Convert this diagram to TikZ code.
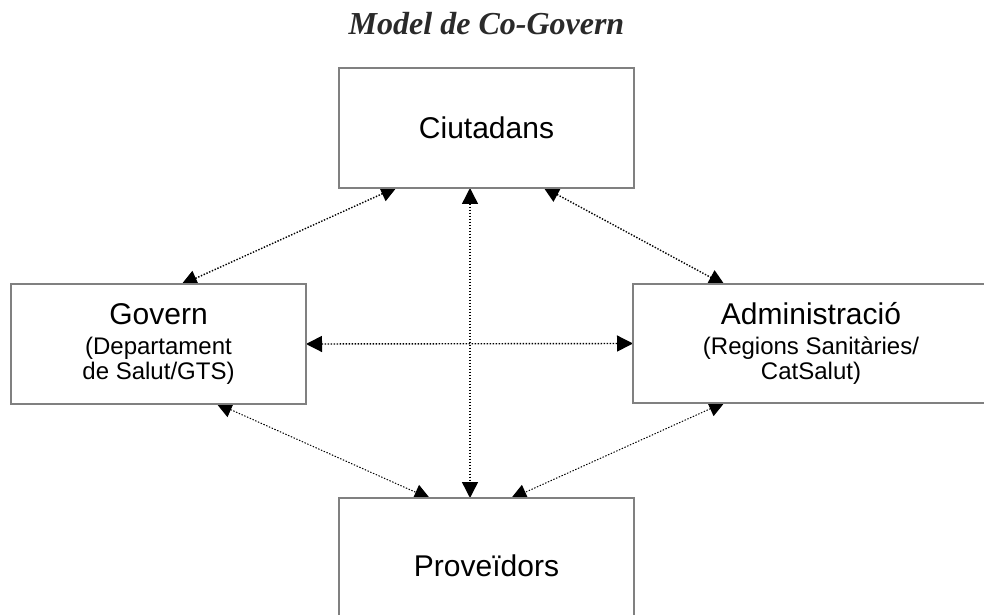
\documentclass[tikz,border=0pt]{standalone}
\usepackage{fontspec}
\setmainfont{Liberation Sans}
\newfontfamily\titlefont{Liberation Serif}
\usetikzlibrary{positioning,arrows.meta,backgrounds}

\definecolor{boxgray}{HTML}{808080}
\definecolor{titlegray}{HTML}{2A2A2A}
\newcommand{\subtxt}{\fontsize{24}{25}\selectfont}

\begin{document}
\begin{tikzpicture}[node distance={96pt}, thick, auto=center,
    main/.style = {draw=boxgray, line width=2pt, fill=white, minimum width=295pt,
        minimum height=120pt, inner sep=0pt, outer sep=0pt, align=center,
        font=\subtxt},
    link/.style = {{Triangle[length=16pt,width=16pt]}-{Triangle[length=16pt,width=16pt]},
        line width=1.4pt, dash pattern=on 1.4pt off 1.6pt, black, shorten <=-2pt, shorten >=-2pt}]
    \useasboundingbox (0pt,0pt) rectangle (984pt,614pt);
    \clip (0pt,0pt) rectangle (984pt,614pt);
    \node[main, font=\fontsize{30}{30}\selectfont] (ciut) at (486.5pt,486pt) {Ciutadans};
    \node[inner sep=0pt, text=titlegray, font=\titlefont\bfseries\itshape\fontsize{32}{32}\selectfont] (title) [above=33pt of ciut] {Model de Co-Govern};
    \node[main] (gov) [below left=96pt and 33pt of ciut] {{\fontsize{30}{30}\selectfont Govern}\\[5pt](Departament\\de Salut/GTS)};
    \node[main, minimum width=356pt, minimum height=119pt] (adm) [below right=96pt and -1pt of ciut] {{\fontsize{30}{30}\selectfont Administració}\\[5pt](Regions Sanitàries/\\CatSalut)};
    \node[main, minimum height=136pt, font=\fontsize{30}{30}\selectfont] (prov) [below=310pt of ciut] {Proveïdors};
    % dotted links behind the boxes
    \begin{scope}[on background layer]
        \draw[link] ([xshift=-91.5pt]ciut.south) -- ([xshift=24.5pt]gov.north);
        \draw[link] ([xshift=58.5pt]ciut.south) -- ([xshift=-88pt]adm.north);
        \draw[link, shorten <=0pt, shorten >=0pt] ([xshift=-16.5pt]ciut.south) -- ([xshift=-16.5pt]prov.north);
        \draw[link, shorten <=0pt, shorten >=0pt] (gov.east) -- (adm.west);
        \draw[link, line width=1pt] ([xshift=59.5pt]gov.south) -- ([xshift=-58pt]prov.north);
        \draw[link, line width=1pt] ([xshift=-88pt]adm.south) -- ([xshift=26pt]prov.north);
    \end{scope}
\end{tikzpicture}
\end{document}
